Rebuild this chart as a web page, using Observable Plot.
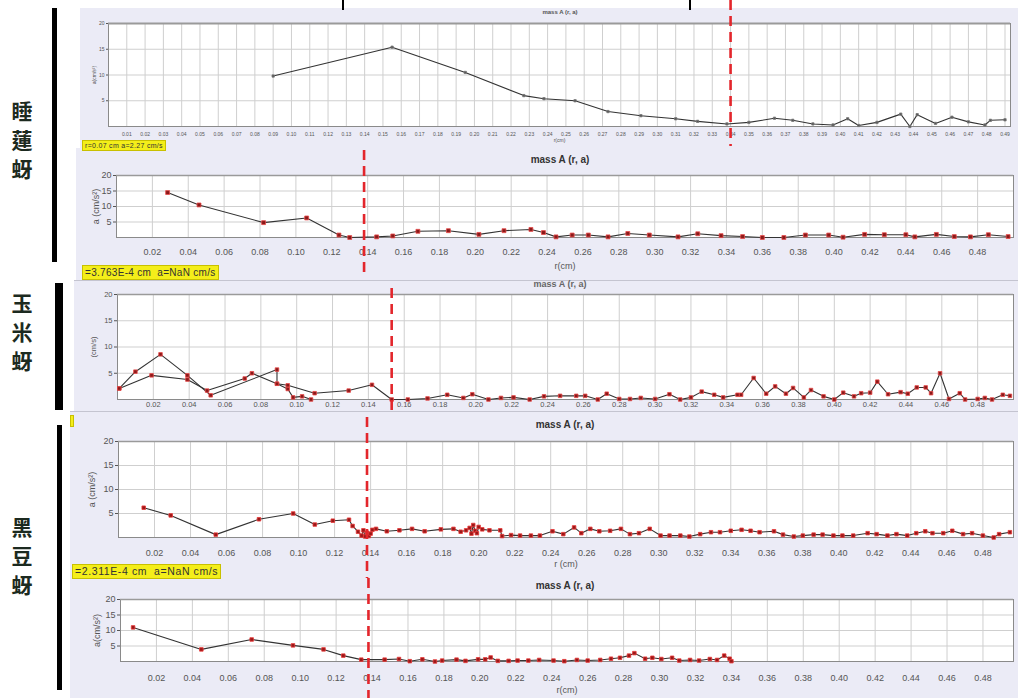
<!DOCTYPE html>
<html><head><meta charset="utf-8">
<script src="https://cdn.jsdelivr.net/npm/d3@7"></script>
<script src="https://cdn.jsdelivr.net/npm/@observablehq/plot@0.6"></script>
<style>
html,body{margin:0;padding:0;background:#fff;}
#root{position:relative;width:1018px;height:698px;overflow:hidden;font-family:"Liberation Sans",Arial,sans-serif;}
.panel{position:absolute;background:#ebebf6;}
.panel svg{display:block;}
.ttl{position:absolute;font-weight:bold;color:#333;white-space:nowrap;transform:translateX(-50%);}
.yel{position:absolute;background:#f4ee1a;color:#333;white-space:nowrap;padding:0 2px;border:1px solid #c8c000;}
.name{position:absolute;font-family:"Noto Sans CJK TC";font-weight:bold;color:#1c2a20;font-size:21px;line-height:29px;width:26px;text-align:center;}
.bar{position:absolute;background:#000;}
</style></head>
<body><div id="root"></div>
<script>
// ---------- data ----------
const xTicks01 = [0.01,0.02,0.03,0.04,0.05,0.06,0.07,0.08,0.09,0.10,0.11,0.12,0.13,0.14,0.15,0.16,0.17,0.18,0.19,0.20,0.21,0.22,0.23,0.24,0.25,0.26,0.27,0.28,0.29,0.30,0.31,0.32,0.33,0.34,0.35,0.36,0.37,0.38,0.39,0.40,0.41,0.42,0.43,0.44,0.45,0.46,0.47,0.48,0.49];
const xTicks02 = [0.02,0.04,0.06,0.08,0.10,0.12,0.14,0.16,0.18,0.20,0.22,0.24,0.26,0.28,0.30,0.32,0.34,0.36,0.38,0.40,0.42,0.44,0.46,0.48];
const yTicks = [5,10,15,20];

// 睡蓮蚜 (upper chart)
const p1R = [0.09,0.155,0.195,0.227,0.238,0.255,0.273,0.291,0.31,0.322,0.338,0.35,0.364,0.374,0.385,0.396,0.404,0.41,0.42,0.433,0.438,0.442,0.452,0.461,0.47,0.479,0.482,0.49];
const p1A = [9.8,15.4,10.5,6.0,5.4,5.0,2.9,2.1,1.5,1.0,0.5,0.8,1.6,1.2,0.5,0.3,1.5,0.2,0.8,2.4,0,2.3,0.6,1.8,0.9,0.3,1.2,1.3];
// 睡蓮蚜 (lower chart)
const p2R = [0.0285,0.046,0.082,0.106,0.124,0.13,0.145,0.154,0.168,0.185,0.202,0.216,0.231,0.238,0.245,0.254,0.263,0.274,0.285,0.297,0.313,0.324,0.337,0.349,0.36,0.372,0.384,0.397,0.405,0.417,0.428,0.44,0.445,0.457,0.467,0.476,0.486,0.497];
const p2A = [14.5,10.5,4.8,6.3,0.8,0,0.2,0.5,2.0,2.2,1.0,2.2,2.6,1.6,0.2,0.8,0.8,0.2,1.3,0.8,0.2,1.2,0.6,0.3,0,0,0.8,0.8,0.1,1.0,0.9,0.9,0.2,1.0,0.3,0.2,0.9,0.3];
// 玉米蚜 (two branches + tail)
const p3aR = [0.001,0.01,0.024,0.039,0.052,0.089,0.089,0.095,0.11,0.129,0.142,0.153,0.162,0.173,0.184,0.193,0.198,0.207,0.214,0.221,0.23,0.238,0.247,0.256,0.261,0.268,0.273,0.28,0.286,0.292,0.3,0.308,0.314,0.32,0.326,0.333,0.338,0.346,0.348,0.355,0.362,0.367,0.373,0.377,0.383,0.387,0.394,0.4,0.405,0.411,0.415,0.42,0.424,0.43,0.437,0.441,0.446,0.451,0.454,0.459,0.464,0.47,0.473,0.48,0.484,0.488,0.494,0.498];
const p3aA = [2.1,5.3,8.6,4.6,0.8,5.7,3.0,2.7,1.2,1.7,2.8,0,0,0.2,0.9,0.3,1.0,0,0.3,0.4,0,0.6,0.7,0.7,0.7,0,1.1,0.1,0.1,0.3,0.1,1.0,0,0.4,1.5,0.9,0.4,0.9,0.9,4.1,1.1,2.5,1.1,2.2,0.4,1.8,0.6,0,1.3,0.6,1.2,1.3,3.4,1.0,1.4,1.1,2.3,2.3,1.2,5.0,0.1,1.2,0,0.1,0.3,0,0.9,0.7];
const p3bR = [0.001,0.019,0.039,0.05,0.071,0.075,0.089,0.095,0.098,0.103,0.108];
const p3bA = [2.1,4.6,3.8,1.7,4.0,5.0,3.0,2.0,0.4,0.6,0];
// 黑豆蚜 (upper chart)
const p4R = [0.014,0.029,0.054,0.078,0.097,0.109,0.119,0.128,0.13,0.133,0.135,0.136,0.137,0.138,0.139,0.14,0.141,0.143,0.149,0.156,0.163,0.17,0.179,0.186,0.19,0.193,0.195,0.196,0.197,0.198,0.199,0.2,0.202,0.206,0.212,0.213,0.218,0.223,0.229,0.234,0.241,0.247,0.253,0.257,0.262,0.267,0.273,0.279,0.284,0.289,0.295,0.301,0.306,0.312,0.317,0.323,0.329,0.334,0.34,0.346,0.351,0.356,0.364,0.369,0.375,0.38,0.386,0.391,0.397,0.402,0.408,0.416,0.421,0.427,0.432,0.438,0.443,0.448,0.452,0.458,0.463,0.469,0.474,0.48,0.486,0.489,0.495];
const p4A = [6.2,4.6,0.6,3.8,5.0,2.7,3.5,3.7,2.4,1.2,0.4,1.5,0.2,1.0,0.3,0.8,1.6,1.8,1.3,1.5,1.8,1.3,1.7,1.8,1.2,1.5,2.0,0.8,2.6,1.4,0.9,2.2,1.7,1.5,1.5,0.3,0.5,0.4,0.4,0.4,1.3,0.7,2.1,0.9,1.8,1.3,1.4,1.8,0.7,0.9,1.8,0.4,0.4,0.4,0.2,0.7,1.1,1.1,1.4,1.6,1.4,1.1,1.3,0.6,0.2,0.4,0.6,0.6,0.4,0.4,0.4,0.9,0.7,0.4,0.7,0.4,0.9,1.3,0.9,0.9,1.4,0.7,0.9,0.4,0,0.7,1.1];
// 黑豆蚜 (lower chart)
const p5R = [0.007,0.045,0.073,0.096,0.113,0.124,0.134,0.147,0.155,0.161,0.168,0.175,0.179,0.187,0.192,0.199,0.203,0.206,0.21,0.216,0.221,0.227,0.233,0.241,0.247,0.254,0.26,0.267,0.273,0.278,0.283,0.286,0.292,0.296,0.301,0.307,0.311,0.317,0.322,0.328,0.332,0.336,0.339,0.34];
const p5A = [11,3.9,7.1,5.2,3.9,1.9,0.6,0.6,0.8,0.1,0.7,0,0.3,0.6,0.2,0.7,0.7,1.3,0.2,0.2,0.3,0.3,0.5,0.3,0.1,0.5,0.3,0.5,0.9,1.2,1.9,2.7,0.9,1.2,0.8,1.2,0.3,0.5,0.3,0.8,0.5,1.9,0.9,0.1];

const cuts = {p1:0.34, p2:0.138, p3:0.153, p4:0.138, p5:0.138};

// ---------- layout ----------
const root = document.getElementById("root");
function el(cls, css, html){ const d=document.createElement("div"); d.className=cls; Object.assign(d.style, css); if(html!=null) d.innerHTML=html; root.appendChild(d); return d; }

function panel(o){
  const w = o.box[2], h = o.box[3];
  const mL = o.frame[0]-o.box[0], mR = o.box[0]+w-o.frame[1], mT = o.frame[2]-o.box[1], mB = o.box[1]+h-o.frame[3];
  const toY = py => 20*(o.frame[3]-py)/(o.frame[3]-o.frame[2]);
  const series = o.series.flatMap(s => s.r.map((r,i)=>({r, a:s.a[i], s:s.name})));
  const div = el("panel", {left:o.box[0]+"px", top:o.box[1]+"px", width:w+"px", height:h+"px", overflow:o.clip?"hidden":"visible", borderTop:o.border||"none"});
  const chart = Plot.plot({
    width:w, height:h, marginLeft:mL, marginRight:mR, marginTop:mT, marginBottom:mB,
    style:{background:"transparent", fontFamily:"Liberation Sans, Arial, sans-serif", fontSize:o.fs+"px", color:"#555", overflow:"visible"},
    x:{domain:o.xDomain, ticks:o.xTicks, tickFormat:d3.format(".2f"), tickSize:0, tickPadding:o.xPad, label:o.xLabel, labelAnchor:"center", labelOffset:o.xLabOff, labelArrow:"none"},
    y:{domain:[0,20], ticks:yTicks, tickSize:o.ytSize, tickPadding:2, label:o.yLabel, labelAnchor:"center", labelOffset:o.yLabOff, labelArrow:"none"},
    marks:[
      Plot.frame({fill:"white", stroke:"none"}),
      Plot.ruleX(o.xTicks, {stroke:"#cfcfcf", strokeWidth:1}),
      Plot.ruleY(yTicks, {stroke:"#cfcfcf", strokeWidth:1}),
      Plot.frame({stroke:"#8a8a8a"}),
      Plot.ruleY([20], {stroke:"#9a9a9a", strokeWidth:o.topW||1.5}),
      Plot.line(series, {x:"r", y:"a", z:"s", stroke:"#333", strokeWidth:1.1}),
      Plot.dot(series, {x:"r", y:"a", symbol:"square", r:o.dotR, fill:o.dotFill, stroke:o.dotStroke, strokeWidth:0.8}),
      Plot.ruleX([o.cut], {y1:toY(o.cutPx[0]), y2:toY(o.cutPx[1]), stroke:"#e3262c", strokeWidth:2.6, strokeDasharray:"10,6"})
    ]
  });
  div.appendChild(chart);
  return div;
}

// P1
panel({box:[80,8,938,140], frame:[108,1010,23,126], xDomain:[0,0.493], xTicks:xTicks01, fs:5, xPad:6, xLabel:"r(cm)", xLabOff:15, yLabel:"a(cm/s²)", yLabOff:16, ytSize:2,
  series:[{name:"a", r:p1R, a:p1A}], cut:cuts.p1, cutPx:[0,146], dotR:1.3, dotFill:"#555", dotStroke:"#777", topW:2, clip:false});
// P2
panel({box:[76,148,942,132], frame:[116,1013,175,237], xDomain:[0,0.5], xTicks:xTicks02, fs:9, xPad:11, xLabel:"r(cm)", xLabOff:31, yLabel:"a (cm/s²)", yLabOff:24, ytSize:3,
  series:[{name:"a", r:p2R, a:p2A}], cut:cuts.p2, cutPx:[150,272], dotR:2.2, dotFill:"#8a1a1a", dotStroke:"#e84a4a", clip:false});
// P3
panel({box:[74,280,944,131], frame:[117,1013,293,398], xDomain:[0,0.5], xTicks:xTicks02, fs:7.5, xPad:2, xLabel:null, xLabOff:20, yLabel:"(cm/s)", yLabOff:27, ytSize:3,
  series:[{name:"a", r:p3aR, a:p3aA},{name:"b", r:p3bR, a:p3bA}], cut:cuts.p3, cutPx:[287,411], dotR:2, dotFill:"#8a1a1a", dotStroke:"#e84848", clip:true, border:"1px solid #c4c4d0"});
// P4
panel({box:[70,411,948,167], frame:[118,1013,440,536], xDomain:[0,0.497], xTicks:xTicks02, fs:9, xPad:12, xLabel:"r (cm)", xLabOff:29, yLabel:"a (cm/s²)", yLabOff:30, ytSize:3,
  series:[{name:"a", r:p4R, a:p4A}], cut:cuts.p4, cutPx:[416,578], dotR:2, dotFill:"#9a1818", dotStroke:"#e83838", clip:false, border:"1px solid #c4c4d0"});
// P5
panel({box:[70,578,948,120], frame:[120,1013,599,661], xDomain:[0,0.497], xTicks:xTicks02, fs:9, xPad:13, xLabel:"r(cm)", xLabOff:31, yLabel:"a(cm/s²)", yLabOff:27, ytSize:3,
  series:[{name:"a", r:p5R, a:p5A}], cut:cuts.p5, cutPx:[578,698], dotR:2, dotFill:"#9a1818", dotStroke:"#e83838", clip:true});

// titles
el("ttl", {left:"560px", top:"9px", fontSize:"6px", color:"#555"}, "mass A (r, a)");
el("ttl", {left:"560px", top:"154px", fontSize:"10px"}, "mass A (r, a)");
el("ttl", {left:"560px", top:"279px", fontSize:"9px", color:"#666"}, "mass A (r, a)");
el("ttl", {left:"565px", top:"419px", fontSize:"10px"}, "mass A (r, a)");
el("ttl", {left:"565px", top:"580px", fontSize:"10px"}, "mass A (r, a)");

// yellow readouts
el("yel", {left:"82px", top:"140px", fontSize:"7px", lineHeight:"9px", letterSpacing:"0.3px"}, "r=0.07 cm a=2.27 cm/s");
el("yel", {left:"82px", top:"265px", fontSize:"10px", lineHeight:"13px", letterSpacing:"0.3px"}, "=3.763E-4 cm &nbsp;a=NaN cm/s");
el("yel", {left:"72px", top:"564px", fontSize:"10.5px", lineHeight:"13px", letterSpacing:"0.6px"}, "=2.311E-4 cm &nbsp;a=NaN cm/s");
el("yel", {left:"70px", top:"415px", width:"0px", height:"10px", padding:"0 1px"}, "");

// top bracket marks
el("bar", {left:"342px", top:"0px", width:"2px", height:"10px"});
el("bar", {left:"689px", top:"0px", width:"2px", height:"10px"});

// side labels
el("bar", {left:"52px", top:"8px", width:"5px", height:"254px"});
el("bar", {left:"55px", top:"283px", width:"8px", height:"127px"});
el("bar", {left:"57px", top:"425px", width:"5px", height:"265px"});
el("name", {left:"9px", top:"96px"}, "睡<br>蓮<br>蚜");
el("name", {left:"9px", top:"288px"}, "玉<br>米<br>蚜");
el("name", {left:"9px", top:"512px"}, "黑<br>豆<br>蚜");
</script></body></html>
